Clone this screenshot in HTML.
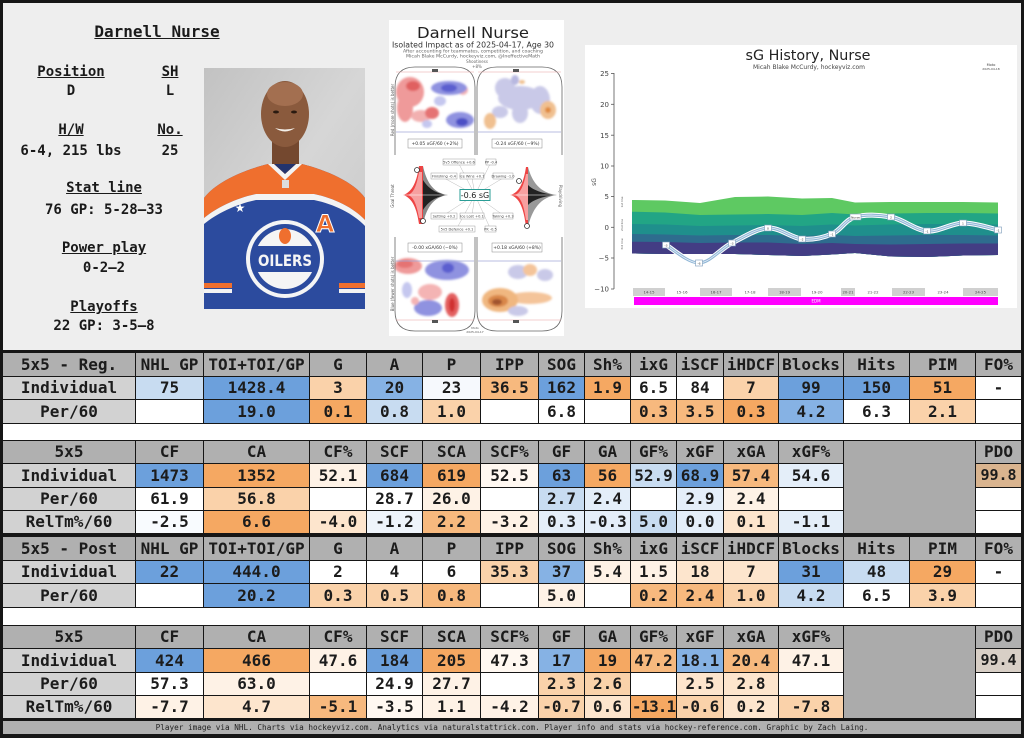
<!DOCTYPE html>
<html><head><meta charset="utf-8">
<style>
*{margin:0;padding:0;box-sizing:border-box}
body{width:1024px;height:738px;overflow:hidden;background:#161616;position:relative;font-family:"DejaVu Sans Mono","Liberation Mono",monospace;}
#top{position:absolute;left:3px;top:3px;width:1018px;height:347px;background:#eeeeee}
.t{position:absolute;width:200px;text-align:center;font-weight:bold;font-size:14px;color:#1a1a1a;line-height:16px;white-space:pre}
.u{text-decoration:underline}
.row{position:absolute;left:3px;width:1018px;display:grid;grid-template-columns:132px 67px 105px 56px 55px 57px 57px 45px 45px 45px 46px 54px 64px 65px 65px 45px;column-gap:1px;}
.row div{background:#fff;text-align:center;font-weight:bold;font-size:16px;color:#1c1c1c;white-space:pre;overflow:hidden}
.row.h div{background:#b0b0b0}
.row div.l{background:#d2d2d2}
.h22 div{height:22px;line-height:22px}
.h23 div{height:23px;line-height:23px}
.gap{position:absolute;left:3px;width:1018px;background:#fff}
.gray{position:absolute;left:844px;width:131px;background:#ababab}
.B{background:#6ca0dc!important}
.B2{background:#86b2e4!important}
.LB{background:#c8dcf1!important}
.VLB{background:#e4eef9!important}
.O{background:#f5a862!important}
.O2{background:#f7b97e!important}
.LO{background:#fad2aa!important}
.VLO{background:#fde5cd!important}
.XLO{background:#fef2e6!important}
.W{background:#fff!important}
.pdo{font-size:15px!important}
#foot{position:absolute;left:3px;top:721px;width:1018px;height:13px;background:#b0b0b0;font-size:7.7px;line-height:13px;text-align:center;color:#222;white-space:pre}
svg text{font-family:"DejaVu Sans","Liberation Sans",sans-serif}
</style></head><body>
<div id="top"></div>

<div class="t u" style="left:57px;top:23px;font-size:16px;line-height:18px">Darnell Nurse</div>
<div class="t u" style="left:-29px;top:64px">Position</div>
<div class="t u" style="left:70px;top:64px">SH</div>
<div class="t" style="left:-29px;top:83px">D</div>
<div class="t" style="left:70px;top:83px">L</div>
<div class="t u" style="left:-29px;top:122px">H/W</div>
<div class="t u" style="left:70px;top:122px">No.</div>
<div class="t" style="left:-29px;top:143px">6-4, 215 lbs</div>
<div class="t" style="left:70px;top:143px">25</div>
<div class="t u" style="left:4px;top:180px">Stat line</div>
<div class="t" style="left:4px;top:202px">76 GP: 5-28–33</div>
<div class="t u" style="left:4px;top:240px">Power play</div>
<div class="t" style="left:4px;top:260px">0-2–2</div>
<div class="t u" style="left:4px;top:299px">Playoffs</div>
<div class="t" style="left:4px;top:318px">22 GP: 3-5–8</div>

<!-- photo -->
<svg style="position:absolute;left:204px;top:68px" width="161" height="241" viewBox="0 0 161 241">
<defs><linearGradient id="bg" x1="0" y1="0" x2="1" y2="1"><stop offset="0" stop-color="#c2c2c2"/><stop offset="0.5" stop-color="#d6d6d6"/><stop offset="1" stop-color="#c8c8c8"/></linearGradient></defs>
<rect width="161" height="241" fill="url(#bg)"/>
<rect x="68" y="70" width="27" height="32" fill="#74482f"/>
<ellipse cx="81" cy="46" rx="24" ry="33" fill="#8a5a3d"/>
<ellipse cx="81" cy="26" rx="18" ry="12" fill="#a36f50"/>
<ellipse cx="72" cy="44" rx="3" ry="1.5" fill="#2a1a10"/>
<ellipse cx="90" cy="44" rx="3" ry="1.5" fill="#2a1a10"/>
<path d="M71,60 Q81,67 91,60 Q81,63 71,60Z" fill="#f4f0ea"/>
<path d="M0,241 L0,130 C12,114 40,102 64,96 L98,96 C122,102 150,114 161,130 L161,241 Z" fill="#2c4b9e"/>
<path d="M0,150 L0,130 C12,114 40,102 64,96 L98,96 C122,102 150,114 161,130 L161,152 C150,140 130,130 110,126 L52,126 C32,130 12,140 0,150Z" fill="#ef6f2e"/>
<path d="M0,156 L0,150 C12,140 32,130 52,126 L110,126 C130,130 150,140 161,152 L161,158 C150,146 130,136 110,132 L52,132 C32,136 12,146 0,156Z" fill="#f3f3f3"/>
<path d="M64,96 L81,112 L98,96 L92,96 L81,106 L70,96Z" fill="#f3f3f3"/>
<path d="M70,96 L81,106 L92,96Z" fill="#23346e"/>
<rect x="78" y="112" width="7" height="8" fill="#ddd"/>
<circle cx="81" cy="191" r="39" fill="#f5f5f5"/>
<circle cx="81" cy="191" r="35" fill="#2c4b9e"/>
<circle cx="81" cy="191" r="30" fill="#f5f5f5"/>
<rect x="51" y="178" width="60" height="26" fill="#2c4b9e"/>
<text x="81" y="198" text-anchor="middle" font-size="16" font-weight="bold" fill="#f5f5f5" textLength="54" lengthAdjust="spacingAndGlyphs">OILERS</text>
<ellipse cx="81" cy="168" rx="6" ry="8" fill="#ef6f2e"/>
<text x="121" y="164" text-anchor="middle" font-size="24" font-weight="bold" fill="#ef6f2e" stroke="#fff" stroke-width="1">A</text>
<text x="36" y="144" text-anchor="middle" font-size="12" fill="#fff">★</text>
<rect x="0" y="215" width="28" height="5" fill="#ef6f2e"/><rect x="0" y="221" width="28" height="4" fill="#f3f3f3"/>
<rect x="135" y="215" width="26" height="5" fill="#ef6f2e"/><rect x="135" y="221" width="26" height="4" fill="#f3f3f3"/>
</svg>

<!-- middle chart -->
<svg style="position:absolute;left:389px;top:20px" width="175" height="316" viewBox="389 20 175 316">
<defs><filter id="bl" x="-20%" y="-20%" width="140%" height="140%"><feGaussianBlur stdDeviation="1"/></filter></defs>
<rect x="389" y="20" width="175" height="316" fill="#fff"/>
<text x="473" y="38" text-anchor="middle" font-size="15.5" fill="#222" textLength="112" lengthAdjust="spacingAndGlyphs">Darnell Nurse</text>
<text x="473" y="47.5" text-anchor="middle" font-size="7.5" fill="#333" textLength="162" lengthAdjust="spacingAndGlyphs">Isolated Impact as of 2025-04-17, Age 30</text>
<text x="473" y="52.5" text-anchor="middle" font-size="4.5" fill="#666" textLength="140" lengthAdjust="spacingAndGlyphs">After accounting for teammates, competition, and coaching</text>
<text x="473" y="57.5" text-anchor="middle" font-size="4.5" fill="#666" textLength="134" lengthAdjust="spacingAndGlyphs">Micah Blake McCurdy, hockeyviz.com, @IneffectiveMath</text>
<text x="477" y="63" text-anchor="middle" font-size="4" fill="#666">Shootiness</text>
<text x="477" y="68" text-anchor="middle" font-size="4" fill="#666">+8%</text>
<!-- top-left rink blobs -->
<g filter="url(#bl)">
<ellipse cx="410" cy="92" rx="14" ry="15" fill="#ef9a9a"/>
<ellipse cx="405" cy="108" rx="8" ry="14" fill="#ef9a9a"/>
<ellipse cx="421" cy="116" rx="10" ry="6" fill="#f2b0b0"/>
<ellipse cx="413" cy="86" rx="7" ry="5" fill="#e06060"/>
<ellipse cx="432" cy="113" rx="7" ry="6" fill="#e57373"/>
<ellipse cx="463" cy="90" rx="5" ry="5" fill="#f4b4b4"/>
<ellipse cx="449" cy="88" rx="18" ry="7" fill="#8f92e0"/>
<ellipse cx="449" cy="88" rx="8" ry="4" fill="#5b5fcf"/>
<ellipse cx="460" cy="120" rx="14" ry="8" fill="#8f92e0"/>
<ellipse cx="462" cy="122" rx="6" ry="4" fill="#4b4fc5"/>
<ellipse cx="440" cy="101" rx="6" ry="5" fill="#c5c7ef"/>
<ellipse cx="427" cy="124" rx="5" ry="4" fill="#c5c7ef"/>
</g>
<g filter="url(#bl)">
<ellipse cx="520" cy="98" rx="22" ry="12" fill="#c9c9e8"/>
<ellipse cx="505" cy="88" rx="10" ry="10" fill="#c9c9e8"/>
<ellipse cx="540" cy="100" rx="10" ry="14" fill="#c9c9e8"/>
<ellipse cx="520" cy="113" rx="8" ry="10" fill="#c9c9e8"/>
<ellipse cx="500" cy="112" rx="8" ry="6" fill="#c9c9e8"/>
<ellipse cx="515" cy="80" rx="4" ry="5" fill="#b8b8e0"/>
<ellipse cx="490" cy="121" rx="6" ry="8" fill="#f0c090"/>
<ellipse cx="548" cy="110" rx="8" ry="9" fill="#f0c090"/>
<ellipse cx="548" cy="110" rx="3" ry="3" fill="#e08a40"/>
<ellipse cx="522" cy="82" rx="3" ry="2" fill="#f0c090"/>
</g>
<!-- bottom blobs -->
<g filter="url(#bl)">
<ellipse cx="408" cy="266" rx="14" ry="8" fill="#ef9a9a"/>
<ellipse cx="405" cy="264" rx="8" ry="4" fill="#e57373"/>
<ellipse cx="447" cy="270" rx="22" ry="10" fill="#8f92e0"/>
<ellipse cx="448" cy="268" rx="6" ry="5" fill="#5b5fcf"/>
<ellipse cx="430" cy="292" rx="12" ry="8" fill="#f4b4b4"/>
<ellipse cx="428" cy="308" rx="14" ry="8" fill="#8f92e0"/>
<ellipse cx="452" cy="305" rx="7" ry="12" fill="#e36060"/>
<ellipse cx="452" cy="305" rx="3" ry="7" fill="#d03030"/>
<ellipse cx="407" cy="290" rx="5" ry="8" fill="#c5c7ef"/>
<ellipse cx="415" cy="301" rx="4" ry="4" fill="#f4b4b4"/>
</g>
<g filter="url(#bl)">
<ellipse cx="518" cy="272" rx="10" ry="7" fill="#c9c9e8"/>
<ellipse cx="545" cy="275" rx="8" ry="6" fill="#c9c9e8"/>
<ellipse cx="530" cy="270" rx="7" ry="6" fill="#f4c49a"/>
<ellipse cx="530" cy="298" rx="22" ry="6" fill="#f4c49a"/>
<ellipse cx="500" cy="300" rx="18" ry="12" fill="#f0b780"/>
<ellipse cx="498" cy="301" rx="10" ry="6" fill="#d9874a"/>
<ellipse cx="497" cy="302" rx="5" ry="3" fill="#a0522d"/>
<ellipse cx="518" cy="311" rx="10" ry="5" fill="#c9c9e8"/>
</g>
<!-- rink outlines -->
<g fill="none" stroke="#666" stroke-width="0.8">
<path d="M395,155 L395,87 Q395,67 415,67 L455,67 Q475,67 475,87 L475,155"/>
<path d="M477,155 L477,87 Q477,67 497,67 L542,67 Q562,67 562,87 L562,155"/>
<path d="M395,237 L395,311 Q395,331 415,331 L455,331 Q475,331 475,311 L475,237"/>
<path d="M477,237 L477,311 Q477,331 497,331 L542,331 Q562,331 562,311 L562,237"/>
</g>
<g stroke="#e8a0a0" stroke-width="0.6"><line x1="396" y1="72" x2="474" y2="72"/><line x1="478" y1="72" x2="561" y2="72"/><line x1="396" y1="320" x2="474" y2="320"/><line x1="478" y1="320" x2="561" y2="320"/></g>
<g stroke="#a0a8d8" stroke-width="0.7"><line x1="396" y1="132" x2="474" y2="132"/><line x1="478" y1="132" x2="561" y2="132"/><line x1="396" y1="261" x2="474" y2="261"/><line x1="478" y1="261" x2="561" y2="261"/></g>
<g fill="#555"><rect x="432" y="69" width="6" height="3"/><rect x="513" y="69" width="6" height="3"/><rect x="432" y="320" width="6" height="3"/><rect x="513" y="320" width="6" height="3"/></g>
<g fill="#fff" stroke="#888" stroke-width="0.5">
<rect x="408" y="139" width="54" height="9"/><rect x="492" y="139" width="50" height="9"/>
<rect x="408" y="243" width="54" height="9"/><rect x="492" y="243" width="50" height="9"/>
</g>
<g font-size="4.5" fill="#333" text-anchor="middle">
<text x="435" y="145">+0.05 xGF/60 (+2%)</text><text x="517" y="145">-0.24 xGF/60 (−9%)</text>
<text x="435" y="249">-0.00 xGA/60 (−0%)</text><text x="517" y="249">+0.18 xGA/60 (+8%)</text>
</g>
<!-- middle -->
<g stroke="#aaa" stroke-width="0.4">
<line x1="475" y1="195" x2="459" y2="164"/><line x1="475" y1="195" x2="490" y2="164"/>
<line x1="475" y1="195" x2="444" y2="178"/><line x1="475" y1="195" x2="472" y2="178"/><line x1="475" y1="195" x2="503" y2="178"/>
<line x1="475" y1="195" x2="444" y2="215"/><line x1="475" y1="195" x2="472" y2="215"/><line x1="475" y1="195" x2="503" y2="215"/>
<line x1="475" y1="195" x2="457" y2="228"/><line x1="475" y1="195" x2="490" y2="228"/>
</g>
<path d="M403,195 C413,192 417,180 419,166 L423,166 L423,224 L419,224 C417,210 413,198 403,195Z" fill="#ee4444"/>
<path d="M408,195 C414,193 417,184 419,172 L422,172 L422,218 L419,218 C417,206 414,197 408,195Z" fill="#f7a0a0"/>
<path d="M423,166 C426,180 432,193 448,195 C432,197 426,210 423,224Z" fill="#888"/>
<path d="M423,180 C428,188 436,194 448,195 C436,196 428,202 423,210Z" fill="#222"/>
<line x1="403" y1="195" x2="448" y2="195" stroke="#fff" stroke-width="0.6"/>
<circle cx="417" cy="170" r="2.5" fill="#fff" stroke="#333" stroke-width="0.8"/>
<circle cx="423" cy="221" r="2.5" fill="#fff" stroke="#333" stroke-width="0.8"/>
<path d="M510,195 C520,193 524,180 526,167 L528,167 L528,227 L526,227 C524,210 520,197 510,195Z" fill="#ee4444"/>
<path d="M515,195 C521,193 524,184 526,174 L528,174 L528,220 L526,220 C524,206 521,197 515,195Z" fill="#f7a0a0"/>
<path d="M528,167 C532,182 540,193 557,195 C540,197 532,210 528,227Z" fill="#999"/>
<path d="M528,185 C534,191 545,194 557,195 C545,196 534,199 528,205Z" fill="#222"/>
<line x1="510" y1="195" x2="557" y2="195" stroke="#fff" stroke-width="0.6"/>
<circle cx="519" cy="181" r="2.5" fill="#fff" stroke="#333" stroke-width="0.8"/>
<circle cx="527" cy="226" r="2.5" fill="#fff" stroke="#333" stroke-width="0.8"/>
<g fill="#fff" stroke="#888" stroke-width="0.4">
<rect x="443" y="159" width="32" height="6"/><rect x="486" y="159" width="10" height="6"/>
<rect x="431" y="173" width="26" height="6"/><rect x="460" y="173" width="24" height="6"/><rect x="493" y="173" width="20" height="6"/>
<rect x="431" y="213" width="26" height="6"/><rect x="460" y="213" width="24" height="6"/><rect x="493" y="213" width="20" height="6"/>
<rect x="439" y="226" width="36" height="6"/><rect x="485" y="226" width="11" height="6"/>
</g>
<g font-size="3.6" fill="#444" text-anchor="middle">
<text x="459" y="163.5">5v5 Offence +0.6</text><text x="491" y="163.5">PP -0.4</text>
<text x="444" y="177.5">Finishing -0.4</text><text x="472" y="177.5">Ice Wins +0.1</text><text x="503" y="177.5">Drawing -1.0</text>
<text x="444" y="217.5">Setting +0.2</text><text x="472" y="217.5">Ice Lost +0.1</text><text x="503" y="217.5">Taking +0.3</text>
<text x="457" y="230.5">5v5 Defence +0.1</text><text x="490.5" y="230.5">PK -0.5</text>
</g>
<rect x="460" y="189.5" width="30" height="11" fill="#fff" stroke="#2a9d96" stroke-width="1"/>
<text x="475" y="198" text-anchor="middle" font-size="8" fill="#222">-0.6 sG</text>
<g font-size="4" fill="#555" text-anchor="middle">
<text transform="translate(394,110) rotate(-90)">Red (more shots) is better</text>
<text transform="translate(394,196) rotate(-90)">Goal Threat</text>
<text transform="translate(394,284) rotate(-90)">Blue (fewer shots) is better</text>
<text transform="translate(559,196) rotate(90)">Playdriving</text>
<text x="475" y="329" font-size="3">Moto</text><text x="475" y="333" font-size="3">2025-04-17</text>
</g>
</svg>

<!-- right chart -->
<svg style="position:absolute;left:585px;top:45px" width="432" height="263" viewBox="585 45 432 263">
<rect x="585" y="45" width="432" height="263" fill="#fff"/>
<text x="808" y="60" text-anchor="middle" font-size="14.5" fill="#222" textLength="125" lengthAdjust="spacingAndGlyphs">sG History, Nurse</text>
<text x="809" y="69" text-anchor="middle" font-size="6" fill="#444" textLength="112" lengthAdjust="spacingAndGlyphs">Micah Blake McCurdy, hockeyviz.com</text>
<text x="991" y="66" text-anchor="middle" font-size="3.5" fill="#444">Moto</text>
<text x="991" y="70" text-anchor="middle" font-size="3" fill="#444">2025-04-18</text>
<line x1="614" y1="73" x2="614" y2="289" stroke="#555" stroke-width="0.8"/>
<g stroke="#555" stroke-width="0.8">
<line x1="611" y1="73.5" x2="614" y2="73.5"/><line x1="611" y1="104.3" x2="614" y2="104.3"/><line x1="611" y1="135.2" x2="614" y2="135.2"/><line x1="611" y1="166" x2="614" y2="166"/><line x1="611" y1="196.6" x2="614" y2="196.6"/><line x1="611" y1="227.3" x2="614" y2="227.3"/><line x1="611" y1="258" x2="614" y2="258"/><line x1="611" y1="289" x2="614" y2="289"/>
</g>
<g font-size="7" fill="#444" text-anchor="end">
<text x="609" y="76">25</text><text x="609" y="107">20</text><text x="609" y="138">15</text><text x="609" y="168.5">10</text><text x="609" y="199">5</text><text x="609" y="230">0</text><text x="609" y="260.5">−5</text><text x="609" y="291.5">−10</text>
</g>
<text transform="translate(596,182) rotate(-90)" font-size="6" fill="#444" text-anchor="middle">sG</text>
<polygon fill="#5ec962" points="632,200 665,200.5 700,203 735,197 768,196.5 802,198.5 832,198 855,202.5 891,202 927,202 963,202 998,202.5 998,255 963,255.5 927,257 891,256.5 855,253 832,254.5 802,256 768,255 735,254 700,254 665,254 632,253.5"/>
<polygon fill="#22a585" points="632,211.7 665,212.5 700,215 735,214.5 768,214 802,215 832,213 855,214.5 891,213.5 927,213 963,213 998,213.5 998,255 963,255.5 927,257 891,256.5 855,253 832,254.5 802,256 768,255 735,254 700,254 665,254 632,253.5"/>
<polygon fill="#1f8f8c" points="632,224 665,224.5 700,226 735,225.5 768,225 802,226 832,224.5 855,225.5 891,224.5 927,224 963,224 998,224.5 998,255 963,255.5 927,257 891,256.5 855,253 832,254.5 802,256 768,255 735,254 700,254 665,254 632,253.5"/>
<polygon fill="#2e6c8e" points="632,234 665,234.5 700,235.5 735,235 768,235 802,236 832,235 855,236 891,235.5 927,235 963,235 998,235.5 998,255 963,255.5 927,257 891,256.5 855,253 832,254.5 802,256 768,255 735,254 700,254 665,254 632,253.5"/>
<polygon fill="#433d84" points="632,241.7 665,242 700,243 735,242.5 768,242.5 802,244 832,243 855,244 891,244.5 927,244 963,243.5 998,243.5 998,255 963,255.5 927,257 891,256.5 855,253 832,254.5 802,256 768,255 735,254 700,254 665,254 632,253.5"/>
<path d="M666,245 C671.5,248 688,263.3 699,263 C710,262.7 720.5,248.8 732,243 C743.5,237.2 756.3,228.7 768,228 C779.7,227.3 791.3,238 802,239 C812.7,240 823.2,237.7 832,234 C840.8,230.3 845.2,219.8 855,217 C864.8,214.2 879,214.7 891,217 C903,219.3 915,230 927,231 C939,232 951.2,223.2 963,223 C974.8,222.8 992.2,228.8 998,230" fill="none" stroke="#fff" stroke-width="5"/>
<path d="M666,245 C671.5,248 688,263.3 699,263 C710,262.7 720.5,248.8 732,243 C743.5,237.2 756.3,228.7 768,228 C779.7,227.3 791.3,238 802,239 C812.7,240 823.2,237.7 832,234 C840.8,230.3 845.2,219.8 855,217 C864.8,214.2 879,214.7 891,217 C903,219.3 915,230 927,231 C939,232 951.2,223.2 963,223 C974.8,222.8 992.2,228.8 998,230" fill="none" stroke="#8fb6d6" stroke-width="3"/>
<path d="M666,245 C671.5,248 688,263.3 699,263 C710,262.7 720.5,248.8 732,243 C743.5,237.2 756.3,228.7 768,228 C779.7,227.3 791.3,238 802,239 C812.7,240 823.2,237.7 832,234 C840.8,230.3 845.2,219.8 855,217 C864.8,214.2 879,214.7 891,217 C903,219.3 915,230 927,231 C939,232 951.2,223.2 963,223 C974.8,222.8 992.2,228.8 998,230" fill="none" stroke="#e8f0f8" stroke-width="0.8"/>
<g fill="#fff" stroke="#7a9ab8" stroke-width="0.6">
<rect x="662.5" y="242" width="7" height="6"/><rect x="695.5" y="260" width="7" height="6"/><rect x="728.5" y="240" width="7" height="6"/><rect x="764.5" y="225" width="7" height="6"/><rect x="798.5" y="236" width="7" height="6"/><rect x="828.5" y="231" width="7" height="6"/><rect x="850" y="214" width="11" height="6"/><rect x="887.5" y="214" width="7" height="6"/><rect x="923.5" y="228" width="7" height="6"/><rect x="959.5" y="220" width="7" height="6"/><rect x="994.5" y="227" width="7" height="6"/>
</g>
<g font-size="3" fill="#333" text-anchor="middle">
<text x="666" y="246.3">-3</text><text x="699" y="264.3">-6</text><text x="732" y="244.3">-3</text><text x="768" y="229.3">0</text><text x="802" y="240.3">-2</text><text x="832" y="235.3">-1</text><text x="855.5" y="218.3">Nurse</text><text x="891" y="218.3">2</text><text x="927" y="232.3">-1</text><text x="963" y="224.3">1</text><text x="998" y="231.3">-1</text>
</g>
<g font-size="3" fill="#555" text-anchor="middle">
<text transform="translate(623,202) rotate(-90)">1st line</text>
<text transform="translate(623,225) rotate(-90)">2nd line</text>
<text transform="translate(623,244) rotate(-90)">3rd line</text>
</g>
<g fill="#d0d0d0">
<rect x="633" y="288" width="32" height="8"/><rect x="700" y="288" width="32" height="8"/><rect x="768" y="288" width="33" height="8"/><rect x="841" y="288" width="14" height="8"/><rect x="892" y="288" width="33" height="8"/><rect x="963" y="288" width="35" height="8"/>
</g>
<g font-size="3.8" fill="#444" text-anchor="middle">
<text x="649" y="293.5">14-15</text><text x="682" y="293.5">15-16</text><text x="716" y="293.5">16-17</text><text x="750" y="293.5">17-18</text><text x="784.5" y="293.5">18-19</text><text x="817" y="293.5">19-20</text><text x="848" y="293.5">20-21</text><text x="873" y="293.5">21-22</text><text x="908.5" y="293.5">22-23</text><text x="943" y="293.5">23-24</text><text x="980.5" y="293.5">24-25</text>
</g>
<rect x="634" y="297" width="364" height="8" fill="#ff00ff"/>
<text x="816" y="302.5" font-size="4" fill="#fff" text-anchor="middle">EDM</text>
</svg>

<!-- Section 1 -->
<div class="row h h23" style="top:353px"><div>5x5 - Reg.</div><div>NHL GP</div><div>TOI+TOI/GP</div><div>G</div><div>A</div><div>P</div><div>IPP</div><div>SOG</div><div>Sh%</div><div>ixG</div><div>iSCF</div><div>iHDCF</div><div>Blocks</div><div>Hits</div><div>PIM</div><div>FO%</div></div>
<div class="row h22" style="top:377px"><div class="l">Individual</div><div class="LB">75</div><div class="B">1428.4</div><div class="LO">3</div><div class="B2">20</div><div style="background:#f6f9fd">23</div><div class="O2">36.5</div><div class="B">162</div><div class="O">1.9</div><div>6.5</div><div>84</div><div class="LO">7</div><div class="B">99</div><div class="B">150</div><div class="O">51</div><div>-</div></div>
<div class="row h23" style="top:400px"><div class="l">Per/60</div><div></div><div class="B">19.0</div><div class="O">0.1</div><div class="LB">0.8</div><div class="LO">1.0</div><div></div><div>6.8</div><div></div><div class="O2">0.3</div><div class="O2">3.5</div><div class="O">0.3</div><div class="B2">4.2</div><div>6.3</div><div class="LO">2.1</div><div></div></div>
<div class="gap" style="top:424px;height:16px"></div>
<div class="row h h22" style="top:441px"><div>5x5</div><div>CF</div><div>CA</div><div>CF%</div><div>SCF</div><div>SCA</div><div>SCF%</div><div>GF</div><div>GA</div><div>GF%</div><div>xGF</div><div>xGA</div><div>xGF%</div><div></div><div></div><div>PDO</div></div>
<div class="row h23" style="top:464px"><div class="l">Individual</div><div class="B">1473</div><div class="O">1352</div><div class="XLO">52.1</div><div class="B">684</div><div class="O">619</div><div style="background:#fff8f1">52.5</div><div class="B">63</div><div class="O">56</div><div class="LB">52.9</div><div class="B">68.9</div><div class="O2">57.4</div><div class="VLB">54.6</div><div></div><div></div><div class="pdo" style="background:#d9b48f">99.8</div></div>
<div class="row h22" style="top:488px"><div class="l">Per/60</div><div>61.9</div><div class="LO">56.8</div><div></div><div>28.7</div><div class="XLO">26.0</div><div></div><div class="LB">2.7</div><div class="VLB">2.4</div><div></div><div class="VLB">2.9</div><div class="XLO">2.4</div><div></div><div></div><div></div><div></div></div>
<div class="row h22" style="top:511px"><div class="l">RelTm%/60</div><div style="background:#f8fbfe">-2.5</div><div class="O">6.6</div><div class="VLO">-4.0</div><div style="background:#eef4fb">-1.2</div><div class="O2">2.2</div><div class="XLO">-3.2</div><div class="VLB">0.3</div><div class="VLB">-0.3</div><div class="LB">5.0</div><div class="VLB">0.0</div><div class="VLO">0.1</div><div class="VLB">-1.1</div><div></div><div></div><div></div></div>
<div class="gray" style="top:441px;height:92px"></div>

<!-- Section 2 -->
<div class="row h h23" style="top:537px"><div>5x5 - Post</div><div>NHL GP</div><div>TOI+TOI/GP</div><div>G</div><div>A</div><div>P</div><div>IPP</div><div>SOG</div><div>Sh%</div><div>ixG</div><div>iSCF</div><div>iHDCF</div><div>Blocks</div><div>Hits</div><div>PIM</div><div>FO%</div></div>
<div class="row h22" style="top:561px"><div class="l">Individual</div><div class="B">22</div><div class="B">444.0</div><div>2</div><div>4</div><div>6</div><div class="LO">35.3</div><div class="B2">37</div><div class="XLO">5.4</div><div class="XLO">1.5</div><div class="VLO">18</div><div class="VLO">7</div><div class="B">31</div><div class="LB">48</div><div class="O">29</div><div>-</div></div>
<div class="row h23" style="top:584px"><div class="l">Per/60</div><div></div><div class="B">20.2</div><div class="LO">0.3</div><div class="LO">0.5</div><div class="O2">0.8</div><div></div><div class="XLO">5.0</div><div></div><div class="O2">0.2</div><div class="O2">2.4</div><div class="LO">1.0</div><div class="LB">4.2</div><div>6.5</div><div class="LO">3.9</div><div></div></div>
<div class="gap" style="top:608px;height:17px"></div>
<div class="row h h22" style="top:626px"><div>5x5</div><div>CF</div><div>CA</div><div>CF%</div><div>SCF</div><div>SCA</div><div>SCF%</div><div>GF</div><div>GA</div><div>GF%</div><div>xGF</div><div>xGA</div><div>xGF%</div><div></div><div></div><div>PDO</div></div>
<div class="row h23" style="top:649px"><div class="l">Individual</div><div class="B">424</div><div class="O">466</div><div class="XLO">47.6</div><div class="B">184</div><div class="O">205</div><div style="background:#fff8f1">47.3</div><div class="B2">17</div><div class="O">19</div><div class="O2">47.2</div><div class="B2">18.1</div><div class="O2">20.4</div><div class="XLO">47.1</div><div></div><div></div><div class="pdo" style="background:#d8cfc6">99.4</div></div>
<div class="row h22" style="top:673px"><div class="l">Per/60</div><div>57.3</div><div class="XLO">63.0</div><div></div><div>24.9</div><div class="XLO">27.7</div><div></div><div class="LO">2.3</div><div class="LO">2.6</div><div></div><div class="VLO">2.5</div><div class="VLO">2.8</div><div></div><div></div><div></div><div></div></div>
<div class="row h22" style="top:696px"><div class="l">RelTm%/60</div><div class="XLO">-7.7</div><div class="VLO">4.7</div><div class="O2">-5.1</div><div style="background:#fff8f1">-3.5</div><div class="XLO">1.1</div><div class="XLO">-4.2</div><div class="LO">-0.7</div><div class="VLO">0.6</div><div class="O" style="letter-spacing:-1px">-13.1</div><div class="LO">-0.6</div><div class="VLO">0.2</div><div class="LO">-7.8</div><div></div><div></div><div></div></div>
<div class="gray" style="top:626px;height:92px"></div>

<div id="foot">Player image via NHL. Charts via hockeyviz.com. Analytics via naturalstattrick.com. Player info and stats via hockey-reference.com. Graphic by Zach Laing.</div>
</body></html>
